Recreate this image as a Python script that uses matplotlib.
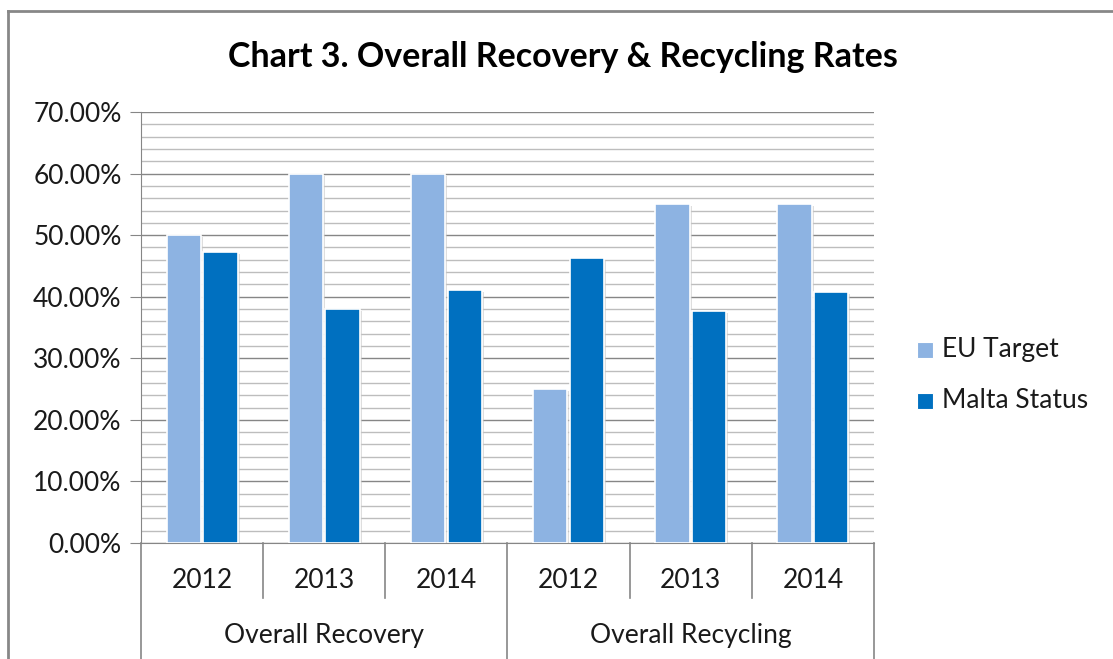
import matplotlib
matplotlib.use("Agg")
import matplotlib.pyplot as plt
import matplotlib.patheffects as pe
from matplotlib.patches import Rectangle
from matplotlib.ticker import MultipleLocator, FuncFormatter
import numpy as np

plt.rcParams['font.family'] = ['Lato', 'DejaVu Sans']

title = "Chart 3. Overall Recovery & Recycling Rates"
groups = ["Overall Recovery", "Overall Recycling"]
years = ["2012", "2013", "2014"]
series_names = ["EU Target", "Malta Status"]
eu_target = [50.0, 60.0, 60.0, 25.0, 55.0, 55.0]
malta_status = [47.2, 38.0, 41.1, 46.3, 37.7, 40.7]
colors = ["#8DB3E2", "#0070C0"]

W, H = 1113, 659
fig = plt.figure(figsize=(W / 100, H / 100), dpi=100)
ax = fig.add_axes([141 / W, 1 - 543 / H, (874 - 141) / W, (543 - 112) / H])

FS = 19
n = len(eu_target)
x = np.arange(n)
bw = 0.28
gap = 0.01
for vals, off, col in [(eu_target, -bw / 2 - gap, colors[0]), (malta_status, bw / 2 + gap, colors[1])]:
    bars = ax.bar(x + off, vals, width=bw, color=col, edgecolor="white", linewidth=1.2, zorder=3)
    for b in bars:
        b.set_path_effects([pe.SimplePatchShadow(offset=(1.5, -1.5), shadow_rgbFace="#c8c8c8", alpha=0.6), pe.Normal()])

ax.set_xlim(-0.5, n - 0.5)
ax.set_ylim(0, 70)
ax.yaxis.set_major_locator(MultipleLocator(10))
ax.yaxis.set_minor_locator(MultipleLocator(2))
ax.yaxis.set_major_formatter(FuncFormatter(lambda v, p: f"{v:.2f}%"))
ax.grid(axis="y", which="major", color="#868686", linewidth=1.0, zorder=0)
ax.grid(axis="y", which="minor", color="#bdbdbd", linewidth=1.0, zorder=0)
ax.set_axisbelow(True)
ax.tick_params(axis="y", which="major", length=8, color="#868686", labelsize=FS, pad=6, labelcolor="#1a1a1a")
ax.tick_params(axis="y", which="minor", length=0)
ax.tick_params(axis="x", length=0, labelbottom=False)
for s in ["top", "right"]:
    ax.spines[s].set_visible(False)
ax.spines["left"].set_color("#868686")
ax.spines["bottom"].set_color("#868686")

# category axis labels & separators
trans = ax.get_xaxis_transform()
y_tick_end = -(598 - 543) / (543 - 112)
y_bottom = -(659 - 543) / (543 - 112)
for i in range(n + 1):
    xb = i - 0.5
    yend = y_bottom if i % 3 == 0 else y_tick_end
    ax.plot([xb, xb], [0, yend], transform=trans, color="#868686", lw=1.2, clip_on=False)
for i in range(n):
    ax.text(i, -(580 - 543) / (543 - 112), years[i % 3], transform=trans, ha="center", va="center",
            fontsize=FS, color="#1a1a1a")
for g, name in enumerate(groups):
    ax.text(g * 3 + 1, -(636 - 543) / (543 - 112), name, transform=trans, ha="center", va="center",
            fontsize=FS, color="#1a1a1a")

fig.text(563 / W, 1 - 57 / H, title, ha="center", va="center", fontsize=24.5, fontweight="bold", color="#000000")

# legend
for k, (name, col) in enumerate(zip(series_names, colors)):
    yc = [350, 401][k]
    fig.patches.append(Rectangle((917 / W, 1 - (yc + 8) / H), 16 / W, 16 / H, transform=fig.transFigure,
                                 facecolor=col, edgecolor="white", lw=0.8))
    fig.text(942 / W, 1 - yc / H, name, ha="left", va="center", fontsize=FS, color="#1a1a1a")

# outer chart border (left & top visible)
fig.add_artist(plt.Line2D([8 / W, 8 / W], [0, 1 - 11 / H], transform=fig.transFigure, color="#878787", lw=2))
fig.add_artist(plt.Line2D([8 / W, 1], [1 - 11 / H, 1 - 11 / H], transform=fig.transFigure, color="#878787", lw=2))

fig.savefig("out.png", dpi=100)
